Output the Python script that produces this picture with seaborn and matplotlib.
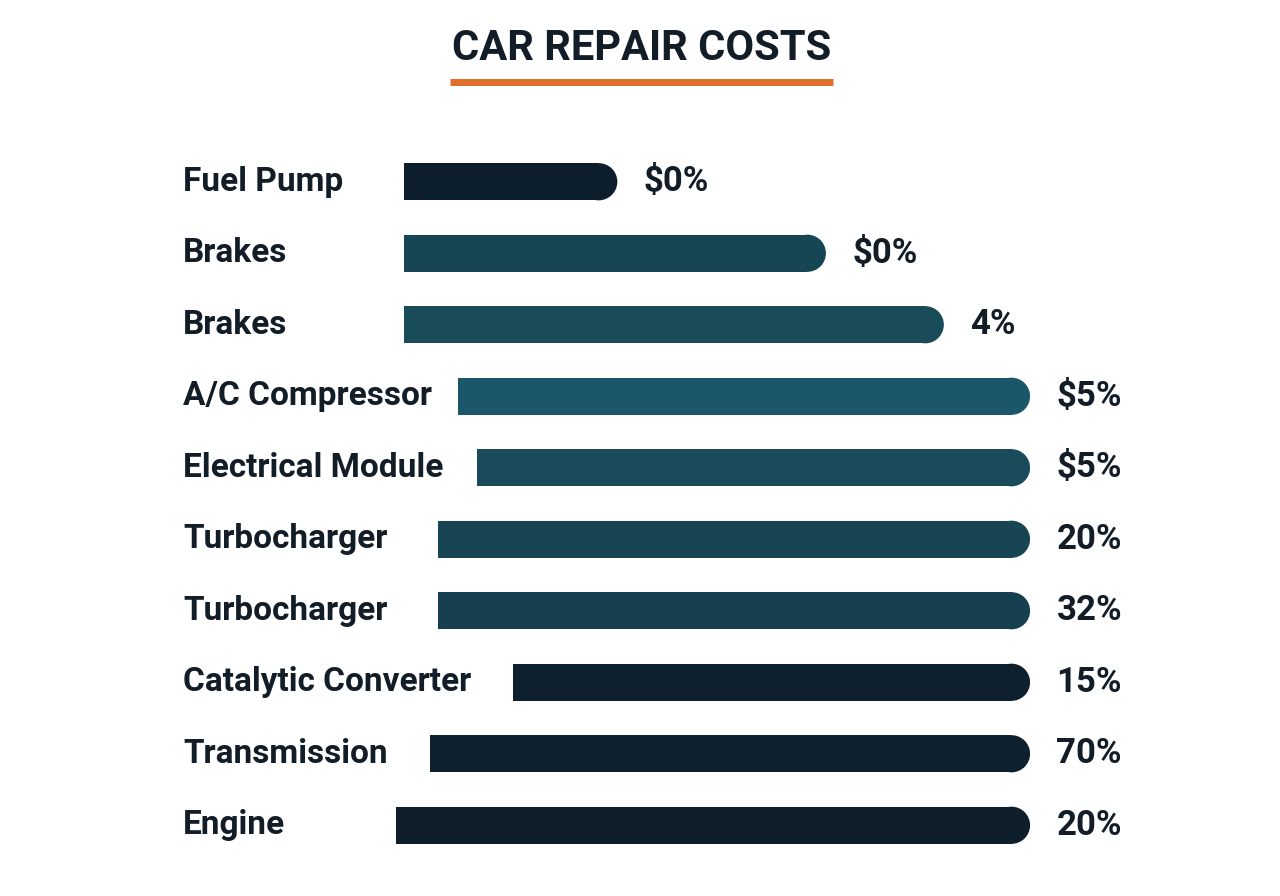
import matplotlib
matplotlib.use("Agg")
import matplotlib.pyplot as plt
import matplotlib.transforms as mtransforms
import seaborn as sns
import pandas as pd
import numpy as np

# ---- data ----
categories = ["Fuel Pump", "Brakes", "Brakes", "A/C Compressor", "Electrical Module",
              "Turbocharger", "Turbocharger", "Catalytic Converter", "Transmission", "Engine"]
bar_start = [1.3, 1.3, 1.3, 9.8, 12.8, 6.6, 6.6, 18.5, 5.4, 0.0]
bar_end = [34.9, 67.8, 86.4, 100, 100, 100, 100, 100, 100, 100]
value_labels = ["$0%", "$0%", "4%", "$5%", "$5%", "20%", "32%", "15%", "70%", "20%"]
bar_colors = ["#0c1e2b", "#164653", "#1a4b59", "#1b5769", "#194b5a",
              "#174554", "#16404f", "#0e202d", "#0e202d", "#0e1e2b"]
title = "CAR REPAIR COSTS"

sns.set_theme(style="white")
plt.rcParams["font.family"] = ["Roboto", "DejaVu Sans"]

TEXT = "#131d27"
fig = plt.figure(figsize=(12.8, 8.96), dpi=100)
fig.patch.set_facecolor("white")
ax = fig.add_axes([396 / 1280, (896 - 861) / 896, 634 / 1280, 715 / 896])

df = pd.DataFrame({"idx": [str(i) for i in range(len(categories))],
                   "start": bar_start, "end": bar_end})
px_per_unit = 634 / 100.0
r = 18.5 / px_per_unit  # cap radius in data units
df["length"] = df["end"] - df["start"] - r

sns.barplot(data=df, x="length", y="idx", hue="idx", palette=bar_colors,
            orient="h", width=0.52, legend=False, ax=ax, saturation=1)

for p, s, e in zip(ax.patches, bar_start, bar_end):
    p.set_x(s)
    p.set_width(e - r - s)
    p.set_edgecolor("none")

bar_px = 0.52 * 715 / 10.0
size_pt = bar_px * 72 / 100.0
ax.scatter(np.array(bar_end) - r, np.arange(len(categories)), s=size_pt ** 2,
           c=bar_colors, marker="o", linewidths=0, zorder=3)

ax.set_xlim(0, 100)
ax.set_ylim(9.5, -0.5)
ax.axis("off")

blend = mtransforms.blended_transform_factory(fig.transFigure, ax.transData)
for i, lab in enumerate(categories):
    ax.text(183 / 1280, i, lab, transform=blend, ha="left", va="center",
            fontsize=24, fontweight="bold", color=TEXT)

for i, (e, v) in enumerate(zip(bar_end, value_labels)):
    ax.annotate(v, xy=(e, i), xytext=(19, 0), textcoords="offset points",
                ha="left", va="center", fontsize=25, fontweight="bold", color=TEXT,
                annotation_clip=False)

fig.text(642 / 1280, 1 - 49 / 896, title, ha="center", va="center",
         fontsize=30, fontweight="bold", color=TEXT)
fig.add_artist(plt.Line2D([450 / 1280, 833 / 1280], [1 - 82.5 / 896, 1 - 82.5 / 896],
                          color="#e06f28", linewidth=5, solid_capstyle="butt"))

fig.savefig("out.png", dpi=100, facecolor="white")
